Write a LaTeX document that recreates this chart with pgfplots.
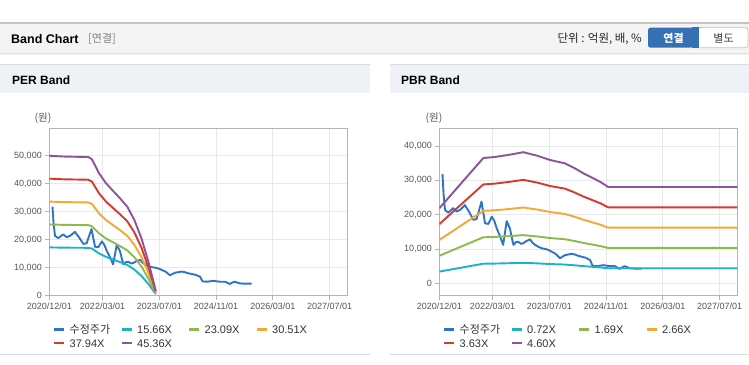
\documentclass[border=0pt]{standalone}
\usepackage{fontspec}
\setmainfont{Liberation Sans}
\newfontfamily\kr{Noto Sans CJK KR}
\usepackage{pgfplots}
\pgfplotsset{compat=1.18}
\definecolor{pricec}{HTML}{2E75C9}
\definecolor{tealc}{HTML}{1CB3C8}
\definecolor{greenc}{HTML}{8DBA4E}
\definecolor{orangec}{HTML}{F5A834}
\definecolor{redc}{HTML}{D43A2F}
\definecolor{purplec}{HTML}{8F529C}
\definecolor{gridc}{HTML}{E8E8E8}
\definecolor{axisc}{HTML}{B4B4B4}
\definecolor{labelc}{HTML}{555555}
\definecolor{hdrbg}{HTML}{F4F4F4}
\definecolor{hdrline}{HTML}{C4C4C4}
\definecolor{titlebg}{HTML}{EEF2F7}
\definecolor{panelline}{HTML}{DCDCDC}
\definecolor{btnblue}{HTML}{3370B4}
\definecolor{btnborder}{HTML}{C2C2C2}

\newcommand{\lgent}[1]{\makebox[51pt][l]{\rule[-2.75pt]{0pt}{13.5pt}#1}}

\pgfplotsset{
  bandaxis/.style={
    scale only axis, width=298pt, height=167.4pt,
    xmin=0, xmax=84,
    xtick={0,15,31,47,63,79},
    xticklabels={2020/12/01,2022/03/01,2023/07/01,2024/11/01,2026/03/01,2027/07/01},
    grid=major, major grid style={color=gridc, line width=0.8pt},
    axis line style={color=axisc, line width=1pt},
    tick style={color=axisc, line width=0.8pt},
    tick align=outside, major tick length=4pt, tick pos=left,
    ticklabel style={font=\fontsize{9}{10}\selectfont, text=labelc},
    /pgf/number format/assume math mode=true,
    /pgf/number format/1000 sep={,},
    scaled y ticks=false,
    every axis plot/.append style={line width=1.9pt, no markers, line join=round},
    legend columns=4,
    legend image code/.code={\draw[##1, line width=2.5pt] (0pt,0pt) -- (10pt,0pt);},
    legend cell align=left,
    legend style={draw=none, fill=none, inner sep=0pt, row sep=1.5pt,
      font=\fontsize{11}{13}\selectfont, text=black!80,
      nodes={inner sep=0pt},
      /tikz/every odd column/.append style={column sep=4pt},
      at={(0.0124,-0.163)}, anchor=north west},
  }
}

\begin{document}
\begin{tikzpicture}
\begin{scope}[x=1pt,y=-1pt]
\fill[white] (0,0) rectangle (749,364);
\path[use as bounding box] (0,0) rectangle (749,364);
% header bar
\fill[hdrbg] (0,22) rectangle (749,52.5);
\draw[hdrline, line width=1.5pt] (0,22.75) -- (749,22.75);
\fill[black!12] (0,52.5) rectangle (749,53.5);
\fill[black!5] (0,53.5) rectangle (749,55);
\node[anchor=west, inner sep=0pt, font=\bfseries\fontsize{12.5}{14}\selectfont] at (11,39) {Band Chart};
\node[anchor=west, inner sep=0pt, text=black!50, font=\fontsize{11}{13}\selectfont] at (88,39) {\kr [연결]};
\node[anchor=east, inner sep=0pt, text=black!85, font=\fontsize{11.5}{13}\selectfont] at (642,38.5) {\kr 단위 : 억원, 배, \%};
\fill[btnblue, rounded corners=2.5pt] (648,27.7) rectangle (705,47.7);
\fill[white!100] (699,27.7) rectangle (748,47.7);
\draw[btnborder, line width=0.8pt, rounded corners=2.5pt] (690,27.7) -| (748,47.7) -- (690,47.7);
\fill[btnblue] (692,27.3) rectangle (699,48.1);
\node[text=white, inner sep=0pt, font=\bfseries\fontsize{11}{13}\selectfont] at (673.5,38) {\kr\bfseries 연결};
\node[text=black!75, inner sep=0pt, font=\fontsize{11}{13}\selectfont] at (723.5,38) {\kr 별도};
% panel title bars
\fill[titlebg] (0,64) rectangle (370,93);
\draw[panelline, line width=1pt] (0,64.5) -- (370,64.5);
\node[anchor=west, inner sep=0pt, font=\bfseries\fontsize{12}{13}\selectfont] at (12,80) {PER Band};
\fill[titlebg] (390,64) rectangle (749,93);
\draw[panelline, line width=1pt] (390,64.5) -- (749,64.5);
\node[anchor=west, inner sep=0pt, font=\bfseries\fontsize{12}{13}\selectfont] at (401,80) {PBR Band};
% bottom lines
\draw[panelline, line width=1pt] (0,354.5) -- (370,354.5);
\draw[panelline, line width=1pt] (390,354.5) -- (749,354.5);
% unit labels
\node[text=labelc, inner sep=0pt, font=\fontsize{10.5}{12}\selectfont] at (43,118) {\kr (원)};
\node[text=labelc, inner sep=0pt, font=\fontsize{10.5}{12}\selectfont] at (434,118) {\kr (원)};
\end{scope}

% ---------------- PER Band ----------------
\begin{axis}[bandaxis, at={(49.3pt,-295.7pt)}, anchor=south west,
  ymin=0, ymax=59800, ytick={0,10000,20000,30000,40000,50000}]
\addplot[pricec] coordinates {
(0.9,31800)(1.2,26000)(1.6,21400)(2.5,20600)(3.2,21200)(3.9,21900)(4.9,20900)(6.0,21500)
(7.2,22800)(8.3,21000)(9.6,18500)(10.5,18700)(11.9,23800)(12.5,20000)(12.9,17500)(13.8,17300)
(14.8,19400)(15.5,18200)(16.2,16000)(17.2,13500)(18.0,11200)(18.4,14000)(19.0,18100)(19.9,16000)
(20.5,13000)(20.9,11200)(21.6,12000)(22.3,12100)(23.0,11500)(23.7,11700)(24.5,12300)(25.6,12800)
(26.3,11800)(27.0,11200)(28.0,10600)(28.9,10200)(30.0,10000)(31.0,9600)(31.7,9200)(32.8,8600)
(34.0,7300)(35.4,8200)(37.3,8600)(38.2,8400)(39.2,8000)(41.1,7500)(42.5,6800)(43.2,5100)
(44.5,5000)(46.2,5300)(48.1,5000)(49.5,5000)(50.9,4200)(51.6,4700)(52.3,5000)(53.7,4400)
(55.0,4300)(57.0,4300)};
\addlegendentry{\lgent{\kr 수정주가}}
\addplot[tealc] coordinates {
(0,17257)(4,17163)(11,17101)(12,16835)(14,15112)(16,13859)(18,12920)(20,11980)(22,10962)
(24,9318)(26,7047)(28,4072)(30,626)};
\addlegendentry{\lgent{15.66X}}
\addplot[greenc] coordinates {
(0,25445)(4,25307)(11,25214)(12,24822)(14,22282)(16,20435)(18,19049)(20,17664)(22,16163)
(24,13739)(26,10391)(28,6003)(30,924)};
\addlegendentry{\lgent{23.09X}}
\addplot[orangec] coordinates {
(0,33622)(4,33439)(11,33317)(12,32798)(14,29442)(16,27001)(18,25171)(20,23340)(22,21357)
(24,18153)(26,13730)(28,7933)(30,1220)};
\addlegendentry{\lgent{30.51X}}
\addplot[redc] coordinates {
(0,41810)(4,41582)(11,41430)(12,40786)(14,36612)(16,33577)(18,31301)(20,29024)(22,26558)
(24,22574)(26,17073)(28,9864)(30,1518)};
\addlegendentry{\lgent{37.94X}}
\addplot[purplec] coordinates {
(0,49987)(4,49715)(11,49533)(12,48762)(14,43772)(16,40144)(18,37422)(20,34700)(22,31752)
(24,26989)(26,20412)(28,11794)(30,1814)};
\addlegendentry{\lgent{45.36X}}
\end{axis}

% ---------------- PBR Band ----------------
\begin{axis}[bandaxis, at={(439.3pt,-295.7pt)}, anchor=south west,
  ymin=-3600, ymax=45150, ytick={0,10000,20000,30000,40000}]
\addplot[pricec] coordinates {
(0.9,31800)(1.2,26000)(1.6,21400)(2.5,20600)(3.2,21200)(3.9,21900)(4.9,20900)(6.0,21500)
(7.2,22800)(8.3,21000)(9.6,18500)(10.5,18700)(11.9,23800)(12.5,20000)(12.9,17500)(13.8,17300)
(14.8,19400)(15.5,18200)(16.2,16000)(17.2,13500)(18.0,11200)(18.4,14000)(19.0,18100)(19.9,16000)
(20.5,13000)(20.9,11200)(21.6,12000)(22.3,12100)(23.0,11500)(23.7,11700)(24.5,12300)(25.6,12800)
(26.3,11800)(27.0,11200)(28.0,10600)(28.9,10200)(30.0,10000)(31.0,9600)(31.7,9200)(32.8,8600)
(34.0,7300)(35.4,8200)(37.3,8600)(38.2,8400)(39.2,8000)(41.1,7500)(42.5,6800)(43.2,5100)
(44.5,5000)(46.2,5300)(48.1,5000)(49.5,5000)(50.9,4200)(51.6,4700)(52.3,5000)(53.7,4400)
(55.0,4300)(57.0,4300)};
\addlegendentry{\lgent{\kr 수정주가}}
\addplot[tealc] coordinates {
(0,3420)(12.4,5713)(15.7,5760)(20,5868)(23.7,5979)(27.9,5804)(31.2,5622)(35.4,5471)
(38.2,5244)(40.6,5016)(43.4,4788)(45.3,4632)(47.6,4392)(84,4392)};
\addlegendentry{\lgent{0.72X}}
\addplot[greenc] coordinates {
(0,8028)(12.4,13410)(15.7,13520)(20,13774)(23.7,14034)(27.9,13623)(31.2,13197)(35.4,12841)
(38.2,12308)(40.6,11773)(43.4,11239)(45.3,10873)(47.6,10309)(84,10309)};
\addlegendentry{\lgent{1.69X}}
\addplot[orangec] coordinates {
(0,12635)(12.4,21107)(15.7,21280)(20,21679)(23.7,22089)(27.9,21442)(31.2,20772)(35.4,20211)
(38.2,19373)(40.6,18530)(43.4,17689)(45.3,17114)(47.6,16226)(84,16226)};
\addlegendentry{\lgent{2.66X}}
\addplot[redc] coordinates {
(0,17243)(12.4,28804)(15.7,29040)(20,29585)(23.7,30144)(27.9,29261)(31.2,28347)(35.4,27581)
(38.2,26437)(40.6,25287)(43.4,24140)(45.3,23355)(47.6,22143)(84,22143)};
\addlegendentry{\lgent{3.63X}}
\addplot[purplec] coordinates {
(0,21850)(12.4,36501)(15.7,36800)(20,37490)(23.7,38198)(27.9,37081)(31.2,35921)(35.4,34951)
(38.2,33502)(40.6,32044)(43.4,30590)(45.3,29596)(47.6,28060)(84,28060)};
\addlegendentry{\lgent{4.60X}}
\end{axis}
\end{tikzpicture}
\end{document}
